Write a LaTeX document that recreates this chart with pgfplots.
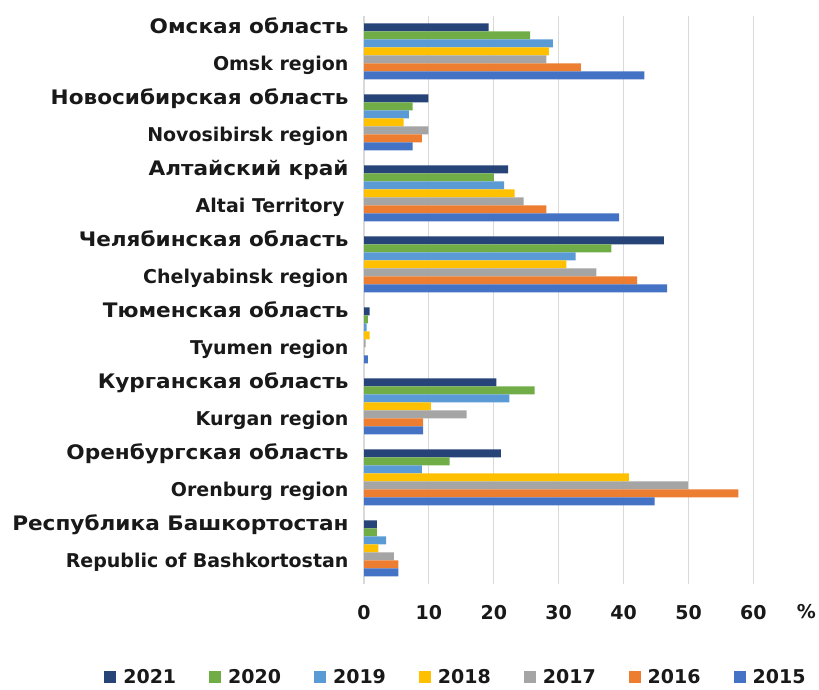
\documentclass[border=0pt]{standalone}
\usepackage{pgfplots}
\pgfplotsset{compat=1.18}
\usepackage{fontspec}
\setmainfont{DejaVu Sans}
\newfontfamily\widefont[FakeStretch=1.08]{DejaVu Sans}
\newcommand{\en}[1]{{\fontsize{19}{37}\selectfont\normalfont\bfseries #1}}
\definecolor{c21}{HTML}{264478}
\definecolor{c20}{HTML}{70AD47}
\definecolor{c19}{HTML}{5B9BD5}
\definecolor{c18}{HTML}{FFC000}
\definecolor{c17}{HTML}{A5A5A5}
\definecolor{c16}{HTML}{ED7D31}
\definecolor{c15}{HTML}{4472C4}
\begin{document}
\begin{tikzpicture}
\path[use as bounding box] (0,0) rectangle (819pt,689pt);
\begin{axis}[
  at={(364pt,105.2pt)}, anchor=south west, scale only axis,
  width=389.4pt, height=567.8pt,
  xbar, bar width=8pt,
  xmin=0, xmax=60, ymin=-0.5, ymax=7.5,
  xtick={0,10,...,60},
  ytick={0,...,7},
  yticklabels={
    {Республика Башкортостан\\\en{Republic of Bashkortostan}},
    {Оренбургская область\\\en{Orenburg region}},
    {Курганская область\\\en{Kurgan region}},
    {Тюменская область\\\en{Tyumen region}},
    {Челябинская область\\\en{Chelyabinsk region}},
    {Алтайский край\\\en{Altai Territory}\hspace*{4pt}},
    {Новосибирская область\\\en{Novosibirsk region}},
    {Омская область\\\en{Omsk region}}},
  axis line style={draw=none},
  major tick length=0pt,
  xmajorgrids=true,
  grid style={draw=black!15, line width=1.2pt},
  yticklabel style={font=\widefont\fontsize{20}{37}\selectfont\bfseries, align=right, yshift=5.5pt, xshift=-12pt, text=black!90},
  xticklabel style={font=\fontsize{19}{24}\selectfont\bfseries, yshift=-18pt, text=black!90},
  /pgf/number format/assume math mode=true,
  legend columns=7,
  legend style={draw=none, at={(rel axis cs:0.236,-0.164)}, anchor=center,
    font=\fontsize{19}{24}\selectfont\bfseries, text=black!90,
    /tikz/every odd column/.append style={column sep=5pt},
    /tikz/every even column/.append style={column sep=31pt}},
  legend image code/.code={\fill[#1] (0pt,-6pt) rectangle (12pt,6pt);},
  clip=false,
]
\addplot[fill=c21, draw=none, bar shift=24pt] coordinates {(19.2,7) (9.9,6) (22.2,5) (46.2,4) (0.87,3) (20.4,2) (21.1,1) (2.0,0)};
\addplot[fill=c20, draw=none, bar shift=16pt] coordinates {(25.6,7) (7.5,6) (20.0,5) (38.1,4) (0.6,3) (26.3,2) (13.2,1) (2.0,0)};
\addplot[fill=c19, draw=none, bar shift=8pt] coordinates {(29.1,7) (6.9,6) (21.6,5) (32.6,4) (0.4,3) (22.4,2) (8.9,1) (3.4,0)};
\addplot[fill=c18, draw=none, bar shift=0pt] coordinates {(28.5,7) (6.1,6) (23.2,5) (31.2,4) (0.87,3) (10.3,2) (40.8,1) (2.2,0)};
\addplot[fill=c17, draw=none, bar shift=-8pt] coordinates {(28.1,7) (9.9,6) (24.6,5) (35.8,4) (0.25,3) (15.8,2) (49.9,1) (4.6,0)};
\addplot[fill=c16, draw=none, bar shift=-16pt] coordinates {(33.4,7) (8.9,6) (28.1,5) (42.1,4) (0,3) (9.1,2) (57.7,1) (5.3,0)};
\addplot[fill=c15, draw=none, bar shift=-24pt] coordinates {(43.2,7) (7.5,6) (39.3,5) (46.7,4) (0.6,3) (9.1,2) (44.8,1) (5.3,0)};
\legend{2021,2020,2019,2018,2017,2016,2015}
\node[font=\fontsize{19}{24}\selectfont\bfseries, text=black!90] at ([xshift=53pt, yshift=-28pt]rel axis cs:1,0) {\%};
\end{axis}
\end{tikzpicture}
\end{document}
